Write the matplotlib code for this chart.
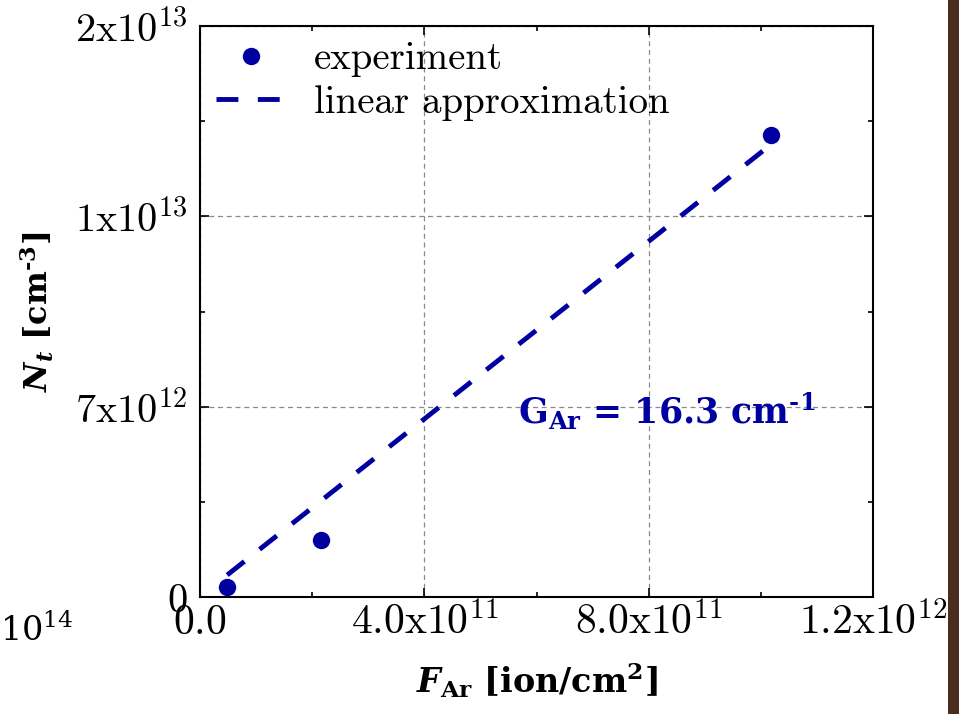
import matplotlib
matplotlib.use("Agg")
import matplotlib.pyplot as plt
from matplotlib.patches import Rectangle
from matplotlib.ticker import FixedLocator, MultipleLocator

# ---- data ----
exp_x = [4.85e10, 2.163e11, 1.018e12]
exp_y = [3.4e11, 2.0e12, 1.619e13]
fit_x = [4.85e10, 1.013e12]
fit_y = [7.7e11, 1.577e13]

xticks = [0.0, 4.0e11, 8.0e11, 1.2e12]
xtick_labels = [r"$0.0$", r"$4.0\mathrm{x}10^{11}$", r"$8.0\mathrm{x}10^{11}$", r"$1.2\mathrm{x}10^{12}$"]
yticks = [0.0, 2e13 / 3, 4e13 / 3, 2e13]
ytick_labels = [r"$0$", r"$7\mathrm{x}10^{12}$", r"$1\mathrm{x}10^{13}$", r"$2\mathrm{x}10^{13}$"]

blue = "#0000a0"

plt.rcParams["mathtext.fontset"] = "cm"

fig = plt.figure(figsize=(9.59, 7.14), dpi=100)
fig.patch.set_facecolor("white")
ax = fig.add_axes([200 / 959, 1 - 597 / 714, 673 / 959, 571 / 714])

ax.plot(exp_x, exp_y, "o", color=blue, ms=11.5, label="experiment", zorder=3)
ax.plot(fit_x, fit_y, color=blue, lw=3.5, dashes=[4.5, 4.0], label="linear approximation", zorder=2)

ax.set_xlim(0, 1.2e12)
ax.set_ylim(0, 2e13)
ax.xaxis.set_major_locator(FixedLocator(xticks))
ax.xaxis.set_minor_locator(MultipleLocator(2e11))
ax.yaxis.set_major_locator(FixedLocator(yticks))
ax.yaxis.set_minor_locator(FixedLocator([2e13 / 6, 2e13 / 2, 2e13 * 5 / 6]))
ax.set_xticklabels(xtick_labels, va="baseline")
ax.set_yticklabels(ytick_labels)

ax.tick_params(which="both", direction="in", top=True, right=True, width=1.2, colors="black")
ax.tick_params(which="major", length=6.5)
ax.tick_params(which="minor", length=3.5)
ax.tick_params(axis="x", which="major", labelsize=30, pad=27)
ax.tick_params(axis="y", which="major", labelsize=29, pad=9)
for s in ax.spines.values():
    s.set_linewidth(1.5)

ax.grid(True, which="major", color="#8a8a8a", lw=0.9, ls=(0, (4, 3)))

leg = ax.legend(loc="upper left", frameon=False, prop={"family": "cmr10", "size": 28},
                handlelength=1.8, handletextpad=0.72, borderaxespad=0.3, borderpad=0.1,
                labelspacing=0.2, markerscale=1.0)

ax.text(0.694, 0.303, "$\\mathbf{G}_{\\mathbf{Ar}}$ = 16.3 cm$^{\\mathbf{\u2010}\\mathbf{1}}$",
        transform=ax.transAxes,
        ha="center", va="baseline", color=blue, fontsize=25, fontweight="bold",
        family="DejaVu Serif", math_fontfamily="dejavuserif")

ax.set_xlabel(r"$\mathbfit{F}_{\mathbf{Ar}}$ [ion/cm$^{\mathbf{2}}$]", fontsize=24, fontweight="bold",
              family="DejaVu Serif", math_fontfamily="dejavuserif", labelpad=12)
ax.set_ylabel("$\\mathbfit{N}_{\\mathbfit{t}}$ [cm$^{\\mathbf{\u2010}\\mathbf{3}}$]", fontsize=23,
              fontweight="bold", family="DejaVu Serif", math_fontfamily="dejavuserif", labelpad=14)

fig.text(0.0, 1 - 641 / 714, r"$10^{14}$", fontsize=24, family="DejaVu Serif",
         math_fontfamily="dejavuserif", ha="left", va="baseline")

fig.patches.append(Rectangle((948 / 959, 0), 11 / 959, 1, transform=fig.transFigure,
                             facecolor="#4a2c20", edgecolor="none", zorder=-1))

fig.savefig("out.png", dpi=100)
